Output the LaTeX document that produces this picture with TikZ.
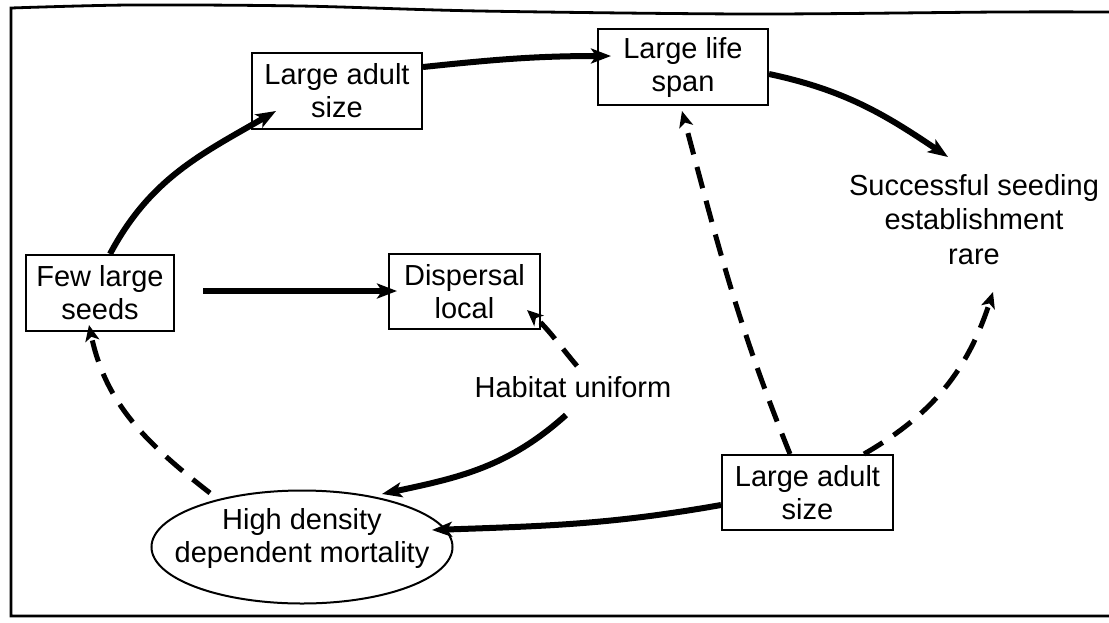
\documentclass[tikz,border=0pt]{standalone}
\usepackage{fontspec}
\setmainfont{Liberation Sans}
\usetikzlibrary{arrows.meta,shapes.geometric}
\begin{document}
\begin{tikzpicture}[x=0.5pt,y=0.5pt,
  every node/.style={font=\fontsize{14.5}{16.5}\selectfont},
  box/.style={draw, line width=1pt, inner sep=0pt, align=center},
  flow/.style={line width=3pt, -{Stealth[length=10pt,width=7.5pt,inset=2.5pt]}},
  link/.style={line width=2.5pt, dash pattern=on 11pt off 6.5pt,
               -{Stealth[length=8pt,width=7pt,inset=2pt]}},
]
\useasboundingbox (0,0) rectangle (1109,-622);

% outer frame, open on the right
\draw[line width=1.4pt] plot[smooth] coordinates {(1109,-12) (1000,-12) (750,-14) (480,-11) (300,-6) (130,-5) (11,-8)}
  -- (11,-616) -- (1109,-616);

% boxes and labels
\node[box, minimum width=85pt, minimum height=38pt] (las1) at (337,-91) {Large adult\\size};
\node[box, minimum width=85pt, minimum height=38pt] (lls) at (683,-67) {Large life\\span};
\node[align=center, font=\fontsize{14.5}{17.25}\selectfont] (ssr) at (974,-219.5)
  {Successful seeding\\establishment\\rare};
\node[box, minimum width=74pt, minimum height=38pt] (fls) at (100,-293) {Few large\\seeds};
\node[box, minimum width=75.5pt, minimum height=37.5pt] (dl) at (464.5,-291.5) {Dispersal\\local};
\node (hu) at (573,-387.5) {Habitat uniform};
\node[box, minimum width=85.5pt, minimum height=37.5pt] (las2) at (807.5,-492.5) {Large adult\\size};
\node[ellipse, draw, line width=1pt, inner sep=0pt, minimum width=150.5pt, minimum height=56.5pt]
  (hd) at (302,-547)
  {\smash{\makebox[0pt]{\begin{tabular}{@{}c@{}}High density\\dependent mortality\end{tabular}}}};

% solid connectors
\draw[flow] ([shift={(10,0)}]fls.north) to[out=62,in=-150] ([shift={(25,19)}]las1.south west);
\draw[flow] ([shift={(0,-15)}]las1.north east) to[out=6,in=180] ([shift={(14,11)}]lls.west);
\draw[flow] ([shift={(0,-7)}]lls.east) to[out=-12,in=146] ([shift={(-26,62.5)}]ssr.center);
\draw[flow] ([shift={(28,2)}]fls.east) -- ([shift={(9,0.5)}]dl.west);
\draw[flow] ([shift={(0,-12.5)}]las2.west) to[out=190,in=2] ([shift={(130,17)}]hd.center);
\draw[flow] ([shift={(-7,-27.5)}]hu.center) to[out=222,in=12] ([shift={(80,53)}]hd.center);

% dashed connectors
\draw[link] ([shift={(-17.5,0)}]las2.north) to[out=112,in=-75] ([shift={(-1,-5)}]lls.south);
\draw[link] ([shift={(-30,0)}]las2.north east) to[out=30,in=-108] ([shift={(19,-72.5)}]ssr.center);
\draw[link] ([shift={(4,21.5)}]hu.center) to[out=130,in=-42] ([shift={(-14,20)}]dl.south east);
\draw[link] ([shift={(-92,54)}]hd.center) to[out=142,in=-78] ([shift={(-11,7)}]fls.south);
\end{tikzpicture}
\end{document}
